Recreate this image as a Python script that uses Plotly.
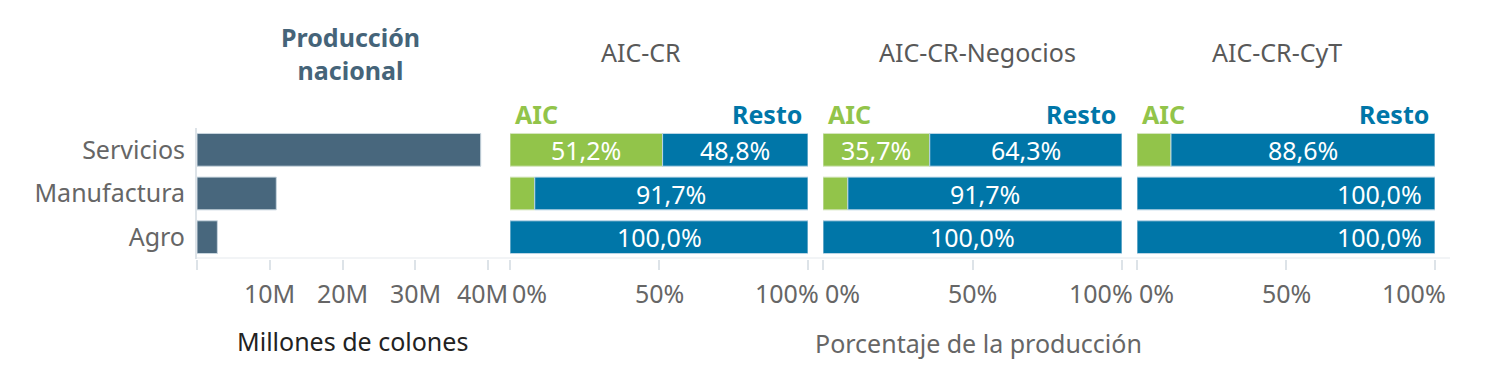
import plotly.graph_objects as go

# ---------------- data ----------------
categorias = ["Servicios", "Manufactura", "Agro"]
produccion_millones = [39.0, 10.9, 2.8]          # millones de colones
ticks_prod = [0, 10, 20, 30, 40]
ticks_prod_text = ["", "10M", "20M", "30M", "40M"]

paneles = ["AIC-CR", "AIC-CR-Negocios", "AIC-CR-CyT"]
aic_cr = [51.2, 8.3, 0.0]
resto_cr = [48.8, 91.7, 100.0]
aic_neg = [35.7, 8.3, 0.0]
resto_neg = [64.3, 91.7, 100.0]
aic_cyt = [11.4, 0.0, 0.0]
resto_cyt = [88.6, 100.0, 100.0]
ticks_pct = [0, 50, 100]
ticks_pct_text = ["0%", "50%", "100%"]

# ---------------- style ----------------
OFF = 8                      # default page body margin
W, H = 1500 - OFF, 385 - OFF
FONT = "Noto Sans, Open Sans, sans-serif"
SLATE = "#48677d"
GREEN = "#92c44a"
BLUE = "#0076a8"
GRAY = "#666666"
LIGHT = "#dde3e8"
FS = 25


def px(x):
    return (x - OFF) / W


def py(y):
    return 1 - (y - OFF) / H


ydom = [py(259), py(128)]
xdoms = [(197, 497), (510, 808), (823, 1122), (1137, 1435)]
PROD_MAX = 300 / 7.275  # range of first panel (millions)

fig = go.Figure()
annotations = []

# panel 1
fig.add_trace(go.Bar(
    y=categorias, x=produccion_millones, orientation="h",
    marker=dict(color=SLATE, line=dict(color="#c9d6df", width=1)),
    xaxis="x", yaxis="y", showlegend=False, hoverinfo="skip"))

pct_data = [(aic_cr, resto_cr), (aic_neg, resto_neg), (aic_cyt, resto_cyt)]
alinear_fin = [False, False, True]


def fmt(v):
    return f"{v:.1f}".replace(".", ",") + "%"


for i, (aic, resto) in enumerate(pct_data):
    ax = f"x{i + 2}"
    ay = f"y{i + 2}"
    fig.add_trace(go.Bar(y=categorias, x=aic, orientation="h", name="AIC",
                         marker=dict(color=GREEN, line=dict(color="#d6e6c0", width=1)),
                         xaxis=ax, yaxis=ay, showlegend=False, hoverinfo="skip"))
    fig.add_trace(go.Bar(y=categorias, x=resto, orientation="h", name="Resto",
                         base=aic,
                         marker=dict(color=BLUE, line=dict(color="#bcd6e6", width=1)),
                         xaxis=ax, yaxis=ay, showlegend=False, hoverinfo="skip"))
    for c, a, r in zip(categorias, aic, resto):
        if a >= 20:
            annotations.append(dict(x=a / 2, y=c, xref=ax, yref=ay, text=fmt(a), xanchor="center",
                                    showarrow=False, font=dict(color="white", size=FS, family=FONT)))
        if r >= 20:
            if alinear_fin[i] and r >= 100:
                annotations.append(dict(x=a + r, y=c, xref=ax, yref=ay, text=fmt(r),
                                        xanchor="right", xshift=-11,
                                        showarrow=False, font=dict(color="white", size=FS, family=FONT)))
            else:
                annotations.append(dict(x=a + r / 2, y=c, xref=ax, yref=ay, text=fmt(r), xanchor="center",
                                        showarrow=False, font=dict(color="white", size=FS, family=FONT)))

layout = dict(
    width=W, height=H, margin=dict(l=0, r=0, t=0, b=0),
    paper_bgcolor="white", plot_bgcolor="white",
    barmode="overlay", bargap=0.25,
    font=dict(family=FONT, size=FS, color=GRAY),
)

for i, (a, b) in enumerate(xdoms):
    sx = "" if i == 0 else str(i + 1)
    rng = [0, PROD_MAX] if i == 0 else [0, 100]
    tv = ticks_prod if i == 0 else ticks_pct
    layout[f"xaxis{sx}"] = dict(domain=[px(a), px(b)], range=rng, anchor=f"y{sx}",
                                showgrid=False, zeroline=False, showline=False,
                                tickvals=tv, ticks="outside", ticklen=10, tickwidth=2,
                                tickcolor=LIGHT, showticklabels=False, fixedrange=True)
    layout[f"yaxis{sx}"] = dict(domain=ydom, anchor=f"x{sx}", categoryorder="array",
                                categoryarray=categorias, autorange="reversed",
                                showgrid=False, zeroline=False,
                                showline=(i == 0), linecolor=LIGHT, linewidth=2,
                                showticklabels=(i == 0), ticks="",
                                ticklabelstandoff=5,
                                tickfont=dict(size=FS, color=GRAY, family=FONT),
                                fixedrange=True)

    # tick labels
    texts = ticks_prod_text if i == 0 else ticks_pct_text
    n = len(tv)
    for j, (v, t) in enumerate(zip(tv, texts)):
        if not t:
            continue
        ann = dict(x=v, y=py(293), xref=f"x{sx}", yref="paper", text=t, showarrow=False,
                   font=dict(size=FS, color=GRAY, family=FONT), yanchor="middle")
        if j == 0:
            ann.update(xanchor="left", xshift=0)
        elif j == n - 1:
            ann.update(x=rng[1], xanchor="right", xshift=13)
        else:
            ann.update(xanchor="center")
        annotations.append(ann)

    if i > 0:
        annotations.append(dict(x=px(a + 3), y=py(114), xref="paper", yref="paper", text="<b>AIC</b>",
                                xanchor="left", yanchor="middle", showarrow=False,
                                font=dict(size=FS, color=GREEN, family=FONT)))
        annotations.append(dict(x=px(b - 4), y=py(114), xref="paper", yref="paper", text="<b>Resto</b>",
                                xanchor="right", yanchor="middle", showarrow=False,
                                font=dict(size=FS, color=BLUE, family=FONT)))

# titles
annotations.append(dict(x=px(350), y=py(54), xref="paper", yref="paper",
                        text="<b>Producción<br>nacional</b>", showarrow=False,
                        xanchor="center", yanchor="middle",
                        font=dict(size=FS, color="#456479", family=FONT)))
for t, cx in zip(paneles, [641, 977, 1277]):
    annotations.append(dict(x=px(cx), y=py(52), xref="paper", yref="paper", text=t,
                            showarrow=False, xanchor="center", yanchor="middle",
                            font=dict(size=FS, color="#595959", family=FONT)))

annotations.append(dict(x=px(352), y=py(341), xref="paper", yref="paper", text="Millones de colones",
                        showarrow=False, xanchor="center", yanchor="middle",
                        font=dict(size=FS, color="#222222", family=FONT)))
annotations.append(dict(x=px(978), y=py(343), xref="paper", yref="paper", text="Porcentaje de la producción",
                        showarrow=False, xanchor="center", yanchor="middle",
                        font=dict(size=FS, color=GRAY, family=FONT)))

layout["annotations"] = annotations
layout["shapes"] = [dict(type="line", xref="paper", yref="paper", x0=px(197), x1=px(1450),
                         y0=py(258), y1=py(258), line=dict(color="#eef1f3", width=1.5), layer="below")]

fig.update_layout(**layout)
fig.write_html("out.html")
